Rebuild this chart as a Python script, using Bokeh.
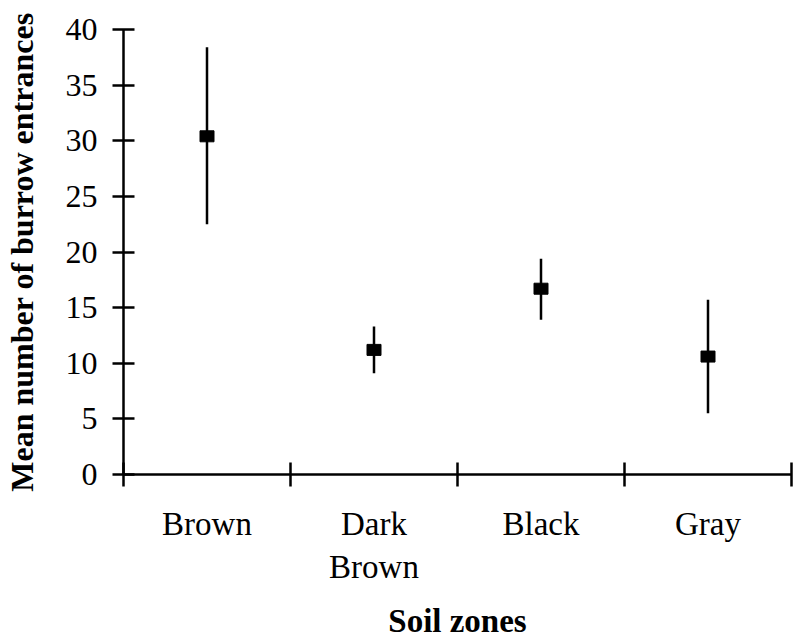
from bokeh.plotting import figure
from bokeh.models import Range1d, FixedTicker
from bokeh.embed import file_html
from bokeh.resources import INLINE

zones = ["Brown", "Dark\nBrown", "Black", "Gray"]
means = [30.4, 11.2, 16.7, 10.6]
upper = [38.4, 13.3, 19.4, 15.7]
lower = [22.5, 9.1, 13.9, 5.5]
y_ticks = [0, 5, 10, 15, 20, 25, 30, 35, 40]

xpos = [i + 0.5 for i in range(len(zones))]
bounds = [i for i in range(len(zones) + 1)]

FONT = "Liberation Serif"

p = figure(width=794, height=641, x_range=Range1d(0, len(zones)), y_range=Range1d(0, 40),
           output_backend="svg", toolbar_location=None,
           min_border_left=123, min_border_right=3, min_border_top=29, min_border_bottom=167)
p.outline_line_color = None
p.xgrid.visible = False
p.ygrid.visible = False

p.segment(x0=xpos, y0=lower, x1=xpos, y1=upper, line_color="black", line_width=2.5)
p.rect(x=xpos, y=means, width=14, height=11, width_units="screen", height_units="screen",
       fill_color="black", line_color="black")

xa = p.xaxis[0]
xa.ticker = FixedTicker(ticks=xpos, minor_ticks=bounds)
xa.major_label_overrides = {x: z for x, z in zip(xpos, zones)}
xa.major_tick_line_color = None
xa.major_tick_in = 0
xa.major_tick_out = 12
xa.minor_tick_line_color = "black"
xa.minor_tick_line_width = 2.5
xa.minor_tick_in = 12
xa.minor_tick_out = 12
xa.axis_line_width = 2.5
xa.axis_line_color = "black"
xa.major_label_text_font = FONT
xa.major_label_text_font_size = "33px"
xa.major_label_text_color = "black"
xa.major_label_standoff = 19
xa.axis_label = "Soil zones"
xa.axis_label_text_font = FONT
xa.axis_label_text_font_style = "bold"
xa.axis_label_text_font_size = "33px"
xa.axis_label_text_color = "black"
xa.axis_label_standoff = 15

ya = p.yaxis[0]
ya.ticker = FixedTicker(ticks=y_ticks, minor_ticks=[])
ya.major_tick_in = 11
ya.major_tick_out = 11
ya.major_tick_line_width = 2.5
ya.major_tick_line_color = "black"
ya.axis_line_width = 2.5
ya.axis_line_color = "black"
ya.major_label_text_font = FONT
ya.major_label_text_font_size = "32px"
ya.major_label_text_color = "black"
ya.major_label_standoff = 15
ya.axis_label = "Mean number of burrow entrances"
ya.axis_label_text_font = FONT
ya.axis_label_text_font_style = "bold"
ya.axis_label_text_font_size = "32px"
ya.axis_label_text_color = "black"
ya.axis_label_standoff = 23

open("out.html", "w").write(file_html(p, INLINE))
